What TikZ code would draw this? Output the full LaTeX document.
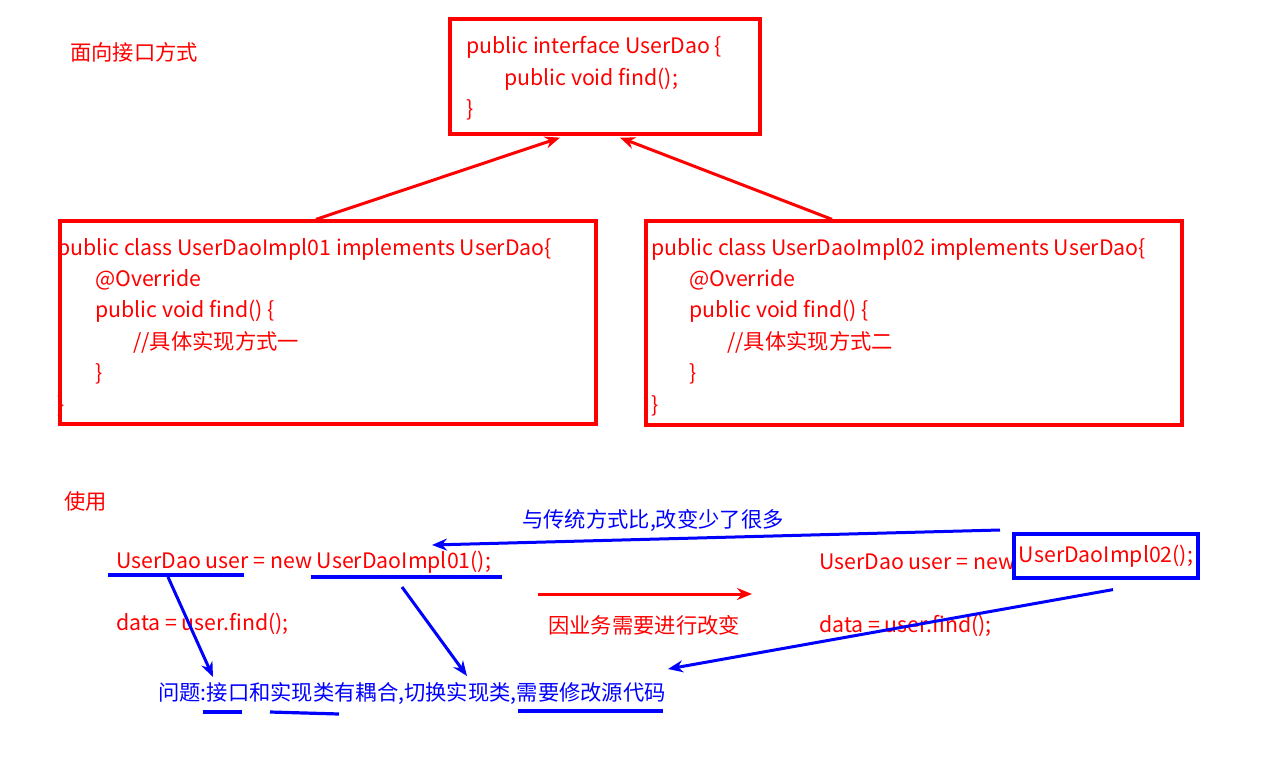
\documentclass[tikz,border=0pt]{standalone}
\usepackage{fontspec}
\setmainfont{Noto Sans CJK SC}
\usepackage{xcolor}
\usetikzlibrary{arrows.meta}
\definecolor{codered}{RGB}{255,0,0}
\definecolor{noteblue}{RGB}{0,0,255}
\tikzset{>={Stealth[length=15pt,width=12pt]}}

\begin{document}
\begin{tikzpicture}[x=1pt, y=-1pt]
\tikzset{codebox/.style={draw=codered, line width=3.3pt, rectangle, inner sep=0pt},
    codetext/.style={text=codered, anchor=base west, inner sep=0pt, font=\fontsize{21.3}{31}\selectfont},
    notetext/.style={codetext, text=noteblue},
    redarrow/.style={->, draw=codered, line width=3pt},
    bluearrow/.style={->, draw=noteblue, line width=3pt},
    markline/.style={draw=noteblue, line width=3.2pt}}
\useasboundingbox[fill=white] (0,0) rectangle (1266,768);

    \node[codetext] (title) at (70,61) {面向接口方式};

    \node[codebox, minimum width=310, minimum height=115] (iface) at (605,76.5) {};
    \node[codebox, minimum width=536, minimum height=203] (implA) at (328,322.5) {};
    \node[codebox, minimum width=536, minimum height=204] (implB) at (914,323) {};

    \node[codetext] (iface-1) at (466,53) {public interface UserDao \{};
    \node[codetext] (iface-2) at (504,85) {public void find();};
    \node[codetext] (iface-3) at (466,116) {\}};

    \foreach \n/\dx/\dy/\txt in {1/0/0/{public class UserDaoImpl01 implements UserDao\{}, 2/38/1/@Override,
        3/38/2/{public void find() \{}, 4/76/3/{//具体实现方式一}, 5/38/4/\}, 6/0/5/\}}
        \node[codetext] (implA-\n) at (57+\dx, 255+31.4*\dy) {\txt};

    \foreach \n/\dx/\dy/\txt in {1/0/0/{public class UserDaoImpl02 implements UserDao\{}, 2/38/1/@Override,
        3/38/2/{public void find() \{}, 4/76/3/{//具体实现方式二}, 5/38/4/\}, 6/0/5/\}}
        \node[codetext] (implB-\n) at (651+\dx, 255+31.4*\dy) {\txt};

    \draw[redarrow] ([xshift=-12pt]implA.north) -- ([xshift=-45pt, yshift=-2pt]iface.south);
    \draw[redarrow] ([xshift=-82pt]implB.north) -- ([xshift=15pt, yshift=-2pt]iface.south);
% % % % % % % % % % % % % % % % % % %
    \node[codetext] (useHead) at (64,509) {使用};

    \node[codetext] (oldNew) at (116,568) {UserDao user = new UserDaoImpl01();};
    \node[codetext] (oldCall) at (116,630) {data = user.find();};
    \node[notetext] (problem) at (158,700) {问题:接口和实现类有耦合,切换实现类,需要修改源代码};

    \node[codetext] (newDecl) at (819,569) {UserDao user = new};
    \node[draw=noteblue, line width=3.2pt, text=codered, inner sep=0pt, font=\fontsize{21.3}{31}\selectfont,
        minimum width=184, minimum height=44] (newImpl) at (1106,556) {UserDaoImpl02();};
    \node[codetext] (newCall) at (819,632) {data = user.find();};

    \node[codetext] (reason) at (548,633) {因业务需要进行改变};
    \node[notetext] (fewer) at (522,527) {与传统方式比,改变少了很多};

    \coordinate (bizFrom) at (538,594);
    \coordinate (bizTo) at (752,594);
    \coordinate (fewerFrom) at (1000,530);
    \coordinate (fewerTo) at (432,545);

    \coordinate (markA1) at (108,575);
    \coordinate (markA2) at (244,575);
    \coordinate (markB1) at (311,577);
    \coordinate (markB2) at (502,577);
    \coordinate (markC1) at (203,712);
    \coordinate (markC2) at (242,712);
    \coordinate (markD1) at (270,712);
    \coordinate (markD2) at (339,714);
    \coordinate (markE1) at (518,711);
    \coordinate (markE2) at (663,711);

    \coordinate (tipA) at (213,677);
    \coordinate (tipB) at (467,676);
    \coordinate (tipC) at (668,669);

    \draw[redarrow] (bizFrom) -- (bizTo);
    \draw[bluearrow] (fewerFrom) -- (fewerTo);

    \draw[markline] (markA1) -- (markA2);
    \draw[markline] (markB1) -- (markB2);
    \draw[markline] (markC1) -- (markC2);
    \draw[markline] (markD1) -- (markD2);
    \draw[markline] (markE1) -- (markE2);

    \draw[bluearrow] (168,577) -- (tipA);
    \draw[bluearrow] (402,587) -- (tipB);
    \draw[bluearrow] ([xshift=7pt, yshift=-10pt]newImpl.south) -- (tipC);
\end{tikzpicture}
\end{document}
